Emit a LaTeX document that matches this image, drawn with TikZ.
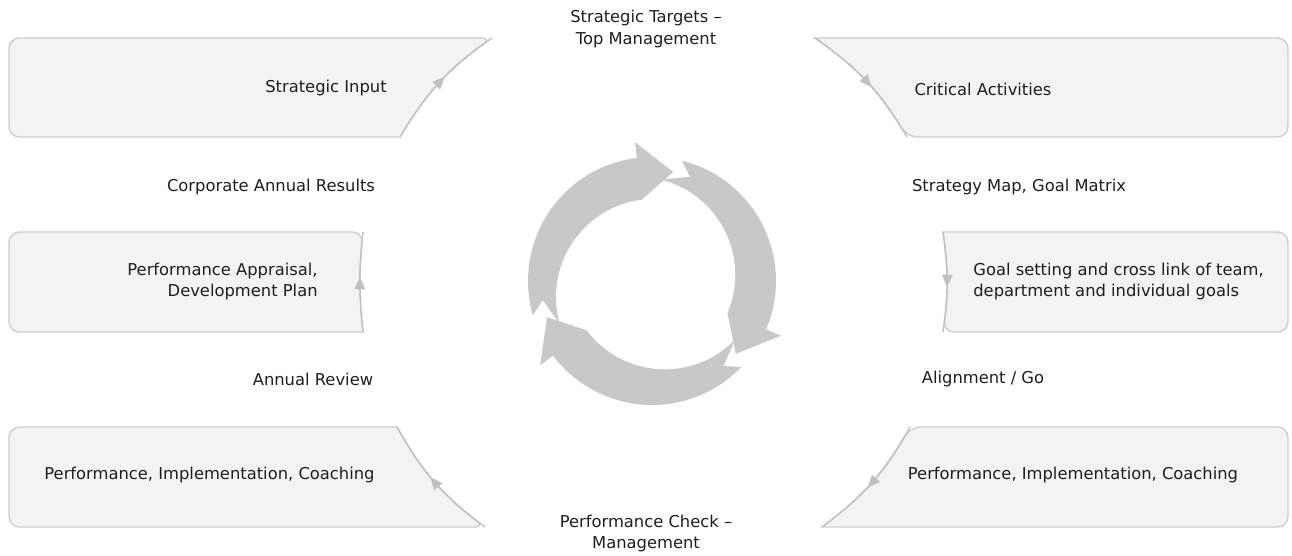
\documentclass[tikz,border=0pt]{standalone}
\usepackage{fontspec}
\setmainfont{DejaVu Sans}
\usepackage{tikz}
\usetikzlibrary{arrows.meta,decorations.markings}

\definecolor{boxfill}{RGB}{243,243,243}
\definecolor{boxline}{RGB}{205,205,205}
\definecolor{flowgray}{RGB}{192,192,192}
\definecolor{ringgray}{RGB}{200,200,200}
\definecolor{txt}{RGB}{30,30,30}

\begin{document}
\begin{tikzpicture}[
	box/.style={fill=boxfill, draw=boxline, line width=0.8pt},
	flow/.style={draw=flowgray, line width=0.8pt, postaction={decorate},
		decoration={markings, mark=at position 0.55 with {\arrow{Triangle[length=7pt,width=6pt]}}}},
	lbl/.style={font=\fontsize{9.3}{12.5}\selectfont, text=txt, inner sep=0pt}
]

	\useasboundingbox (0,0) rectangle (25.84,11.12);

	% corners of the six boxes
	\coordinate (tl1) at (0.18,10.36);
	\coordinate (tr1) at (9.84,10.36);
	\coordinate (br1) at (8.0,8.38);
	\coordinate (bl1) at (0.18,8.38);

	\coordinate (tl2) at (16.3,10.36);
	\coordinate (tr2) at (25.76,10.36);
	\coordinate (br2) at (25.76,8.38);
	\coordinate (bl2) at (18.14,8.38);

	\coordinate (tl3) at (0.18,6.48);
	\coordinate (tr3) at (7.26,6.48);
	\coordinate (br3) at (7.26,4.48);
	\coordinate (bl3) at (0.18,4.48);

	\coordinate (tl4) at (18.86,6.48);
	\coordinate (tr4) at (25.76,6.48);
	\coordinate (br4) at (25.76,4.48);
	\coordinate (bl4) at (18.86,4.48);

	\coordinate (tl5) at (0.18,2.58);
	\coordinate (tr5) at (7.94,2.58);
	\coordinate (br5) at (9.7,0.58);
	\coordinate (bl5) at (0.18,0.58);

	\coordinate (tl6) at (18.2,2.58);
	\coordinate (tr6) at (25.76,2.58);
	\coordinate (br6) at (25.76,0.58);
	\coordinate (bl6) at (16.44,0.58);

	% boxes
	\filldraw[box] (br1) [rounded corners=6pt] -- (bl1) -- (tl1) -- (tr1) [sharp corners] to[bend right=12] (br1) -- cycle;
	\filldraw[box] (tl2) [rounded corners=6pt] -- (tr2) -- (br2) -- (bl2) [sharp corners] to[bend right=12] (tl2) -- cycle;
	\filldraw[box] (br3) [rounded corners=6pt] -- (bl3) -- (tl3) -- (tr3) [sharp corners] to[bend right=6] (br3) -- cycle;
	\filldraw[box] (tl4) [rounded corners=6pt] -- (tr4) -- (br4) -- (bl4) [sharp corners] to[bend right=8] (tl4) -- cycle;
	\filldraw[box] (tr5) [rounded corners=6pt] -- (tl5) -- (bl5) -- (br5) [sharp corners] to[bend left=12] (tr5) -- cycle;
	\filldraw[box] (bl6) [rounded corners=6pt] -- (br6) -- (tr6) -- (tl6) [sharp corners] to[bend left=12] (bl6) -- cycle;

	% flow edges
	\draw[flow] (br1) to[bend left=12] (tr1);
	\draw[flow] (tl2) to[bend left=12] (bl2);
	\draw[flow] (br3) to[bend left=6] (tr3);
	\draw[flow] (tl4) to[bend left=8] (bl4);
	\draw[flow] (br5) to[bend left=12] (tr5);
	\draw[flow] (tl6) to[bend left=12] (bl6);

	% circular arrows
	\begin{scope}[shift={(13.04,5.5)}]
		\foreach \t in {79,-41,199}{
			\fill[ringgray] ({\t+117}:2.48) arc[start angle=\t+117, end angle=\t+18, radius=2.48]
				-- ({\t+18}:2.8) -- (\t:2.22) -- ({\t+18}:1.64)
				arc[start angle=\t+18, end angle=\t+117, radius=1.96]
				-- ({\t+111}:2.22) -- cycle;
		}
	\end{scope}

	% labels
	\node[lbl, align=center] (top) at (12.92,10.54) {Strategic Targets --\\Top Management};
	\node[lbl] (input) at (6.52,9.36) {Strategic Input};
	\node[lbl] (critical) at (19.66,9.34) {Critical Activities};
	\node[lbl] (results) at (5.42,7.38) {Corporate Annual Results};
	\node[lbl] (map) at (20.38,7.38) {Strategy Map, Goal Matrix};
	\node[lbl, align=right, anchor=east] (appraisal) at (6.36,5.49) {Performance Appraisal,\\Development Plan};
	\node[lbl, align=left, anchor=west] (goals) at (19.46,5.49) {Goal setting and cross link of team,\\department and individual goals};
	\node[lbl] (review) at (6.26,3.54) {Annual Review};
	\node[lbl] (align) at (19.66,3.54) {Alignment / Go};
	\node[lbl] (coachL) at (4.19,1.62) {Performance, Implementation, Coaching};
	\node[lbl] (coachR) at (21.46,1.62) {Performance, Implementation, Coaching};
	\node[lbl, align=center] (check) at (12.92,0.45) {Performance Check --\\Management};

\end{tikzpicture}
\end{document}
